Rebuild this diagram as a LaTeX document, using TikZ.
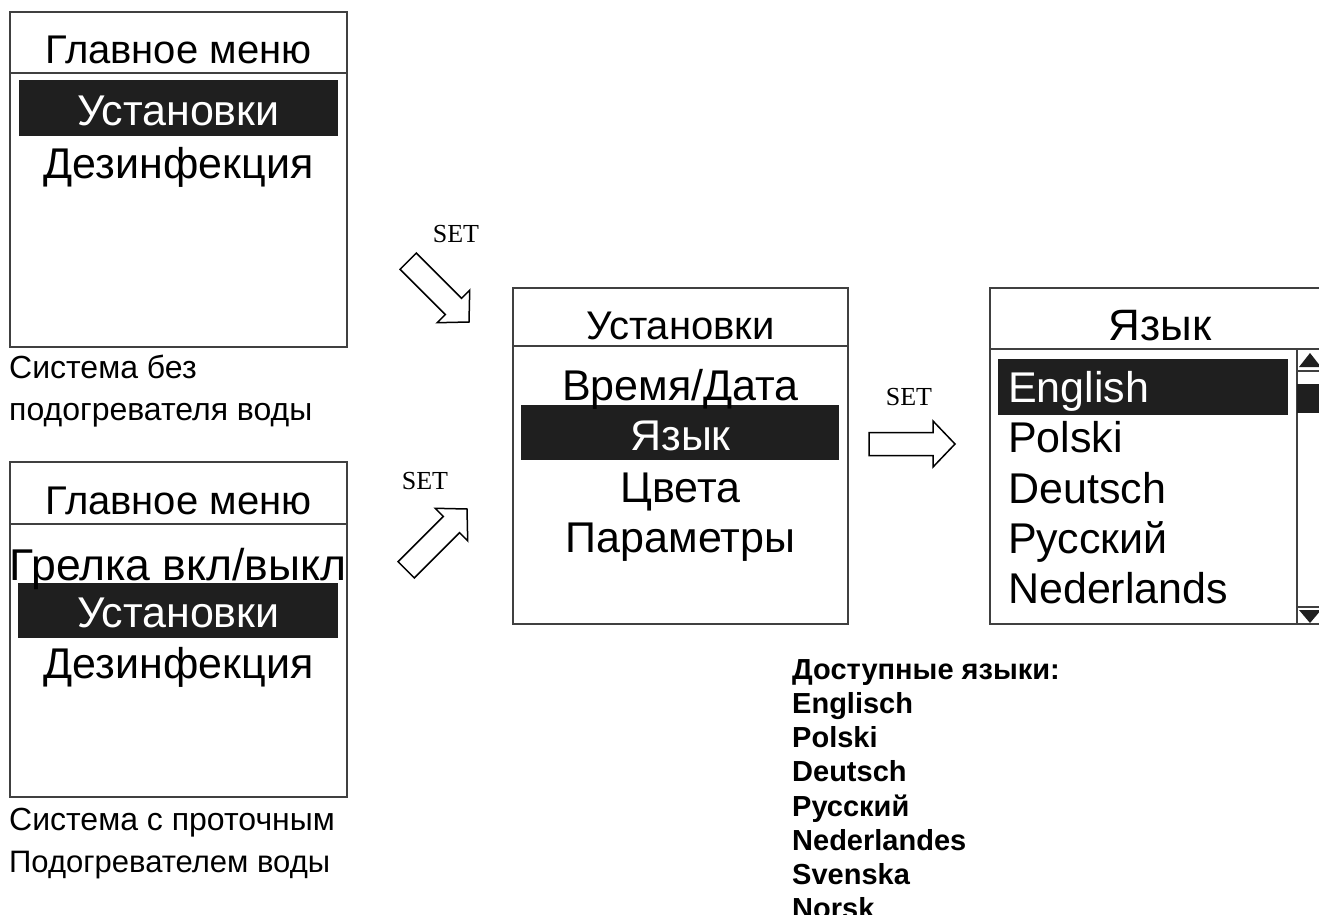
\documentclass[tikz,border=0pt]{standalone}
\usepackage{fontspec}
\setmainfont{Liberation Sans}
\newfontfamily\setfont{Liberation Serif}
\begin{document}
\begin{tikzpicture}[x=1pt,y=-1pt,
  screen/.style={draw=black!75, line width=1.3pt},
  bar/.style={fill=black!88, draw=none},
  ttl/.style={inner sep=0pt, anchor=base, font=\fontsize{40}{48}\selectfont},
  itm/.style={inner sep=0pt, anchor=base, font=\fontsize{43}{50}\selectfont},
  itml/.style={itm, anchor=base west},
  hil/.style={itm, text=white},
  hill/.style={itml, text=white},
  captxt/.style={inner sep=0pt, anchor=base west, font=\fontsize{32}{40}\selectfont},
  lst/.style={inner sep=0pt, anchor=base west, font=\bfseries\fontsize{29}{34}\selectfont},
  setlbl/.style={inner sep=0pt, font=\setfont\fontsize{26}{30}\selectfont},
  blockarrow/.style={draw=black, line width=1.5pt, fill=white, line join=miter}
]
\useasboundingbox (0,0) rectangle (1319,915);

% ---------- Screen 1 ----------
\draw[screen] (10,12) rectangle (347,347);
\draw[screen] (10,73) -- (347,73);
\fill[bar] (19,80) rectangle (338,136);
\node[ttl] (s1t) at (178.5,64) {Главное меню};
\node[hil] (s1a) at (178.5,125) {Установки};
\node[itm] (s1b) at (178.5,178) {Дезинфекция};
\node[captxt] (c1a) at (9,378) {Система без};
\node[captxt] (c1b) at (9,420) {подогревателя воды};

% ---------- Screen 2 ----------
\draw[screen] (10,462) rectangle (347,797);
\draw[screen] (10,524) -- (347,524);
\fill[bar] (18,583) rectangle (338,638);
\node[ttl] (s2t) at (178.5,514) {Главное меню};
\node[itm, font=\fontsize{44.5}{50}\selectfont] (s2a) at (178,580) {Грелка вкл/выкл};
\node[hil] (s2b) at (178.5,627) {Установки};
\node[itm] (s2c) at (178.5,678) {Дезинфекция};
\node[captxt] (c2a) at (9,830) {Система с проточным};
\node[captxt, font=\fontsize{31}{40}\selectfont] (c2b) at (9,872) {Подогревателем воды};

% ---------- Screen 3 ----------
\draw[screen] (513,288) rectangle (848,624);
\draw[screen] (513,346) -- (848,346);
\fill[bar] (521,405) rectangle (839,460);
\node[ttl] (s3t) at (680.5,339) {Установки};
\node[itm] (s3a) at (680.5,400) {Время/Дата};
\node[hil] (s3b) at (680.5,450) {Язык};
\node[itm] (s3c) at (680.5,502) {Цвета};
\node[itm] (s3d) at (680.5,552) {Параметры};

% ---------- Screen 4 ----------
\draw[screen] (1327,288) -- (990,288) -- (990,624) -- (1327,624);
\draw[screen] (990,349) -- (1327,349);
\fill[bar] (998,359) rectangle (1288,415);
\node[ttl, font=\fontsize{44}{50}\selectfont] (s4t) at (1160,340) {Язык};
\node[hill] (s4a) at (1008,402) {English};
\node[itml] (s4b) at (1008,452) {Polski};
\node[itml] (s4c) at (1008,503) {Deutsch};
\node[itml] (s4d) at (1008,553) {Русский};
\node[itml] (s4e) at (1008,603) {Nederlands};
% scrollbar
\draw[screen] (1297,349) -- (1297,624);
\draw[screen] (1297,371) -- (1327,371);
\draw[screen] (1297,607) -- (1327,607);
\fill[black!88] (1297,384) rectangle (1327,413);
\fill[black!88] (1299,367) -- (1310,353) -- (1321,367) -- cycle;
\fill[black!88] (1299,610) -- (1310,623) -- (1321,610) -- cycle;

% ---------- List ----------
\node[lst] (l0) at (792,679) {Доступные языки:};
\node[lst] (l1) at (792,713) {Englisch};
\node[lst] (l2) at (792,747) {Polski};
\node[lst] (l3) at (792,781) {Deutsch};
\node[lst] (l4) at (792,816) {Русский};
\node[lst] (l5) at (792,850) {Nederlandes};
\node[lst] (l6) at (792,884) {Svenska};
\node[lst] (l7) at (792,918) {Norsk};

% ---------- SET arrows ----------
\coordinate (a1) at (469,322);
\coordinate (a2) at (467,509);
\coordinate (a3) at (955,444);
\draw[blockarrow, shift={(a1)}, rotate=-45] (0,0) -- (-22,-23) -- (-22,-11.5) -- (-86,-11.5) -- (-86,11.5) -- (-22,11.5) -- (-22,23) -- cycle;
\draw[blockarrow, shift={(a2)}, rotate=45] (0,0) -- (-22,-23) -- (-22,-11.5) -- (-86,-11.5) -- (-86,11.5) -- (-22,11.5) -- (-22,23) -- cycle;
\draw[blockarrow, shift={(a3)}] (0,0) -- (-22,-23) -- (-22,-11.5) -- (-86,-11.5) -- (-86,11.5) -- (-22,11.5) -- (-22,23) -- cycle;
\node[setlbl] (t1) at (456,234) {SET};
\node[setlbl] (t2) at (425,481) {SET};
\node[setlbl] (t3) at (909,397) {SET};
\end{tikzpicture}
\end{document}
